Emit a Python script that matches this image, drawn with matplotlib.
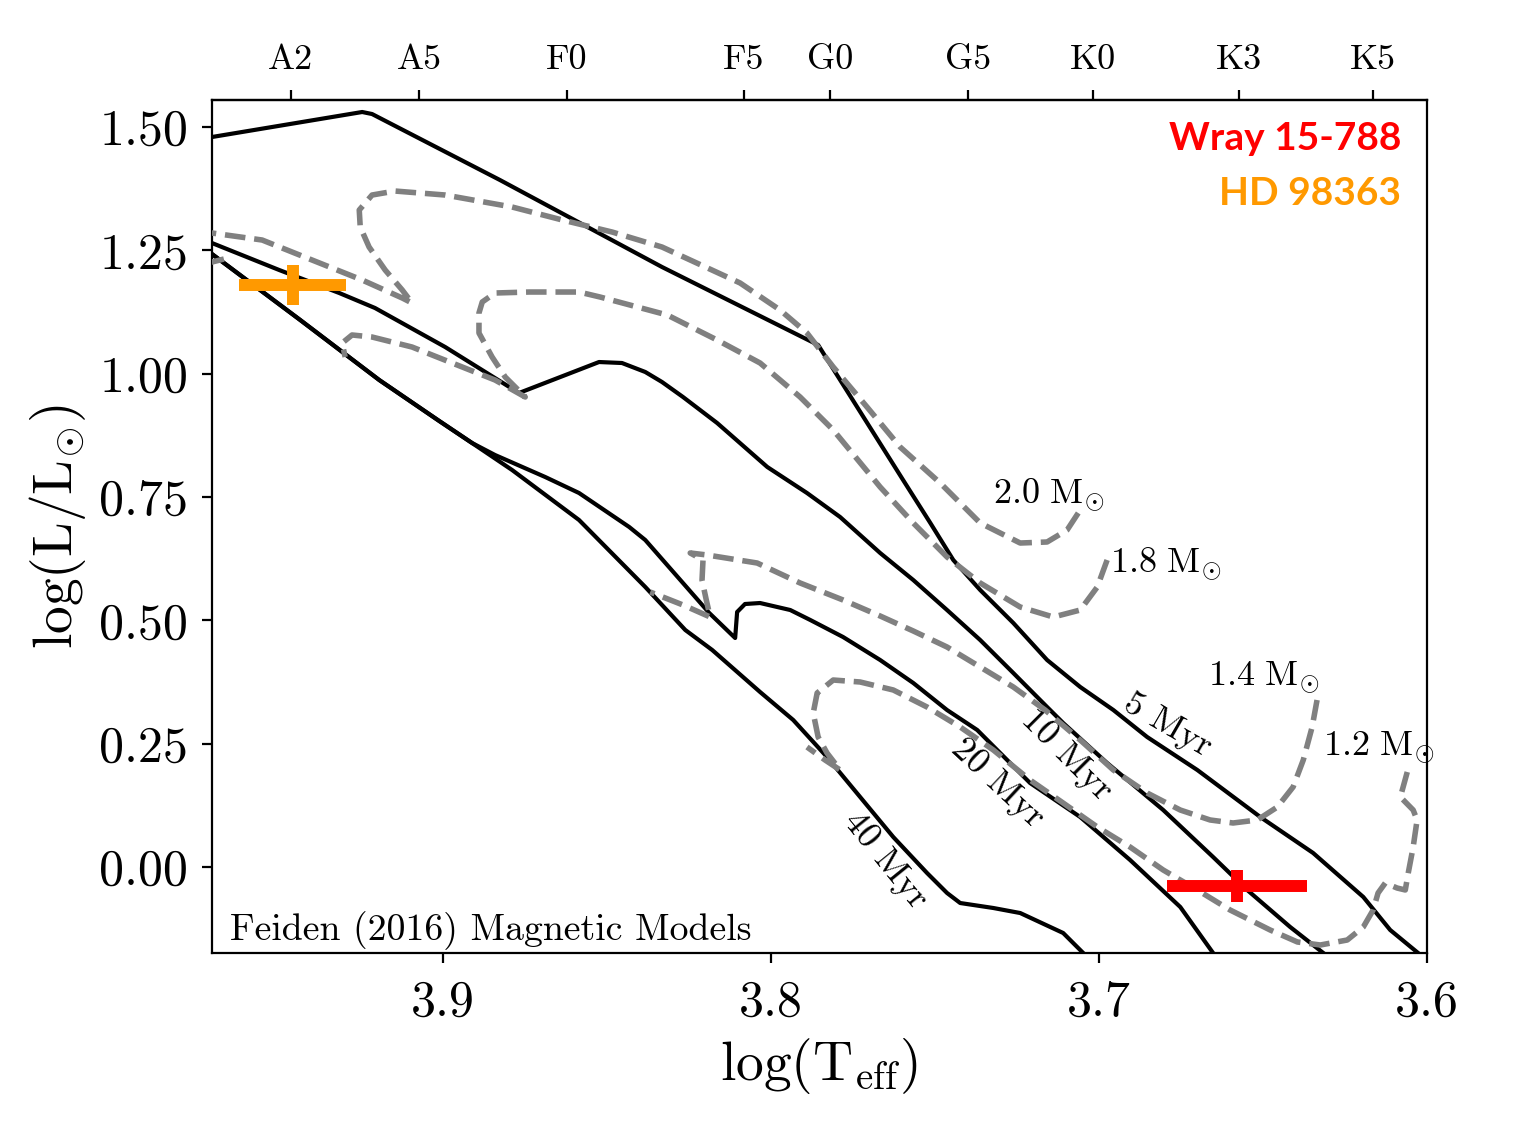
import numpy as np
import matplotlib
matplotlib.use('Agg')
import matplotlib.pyplot as plt
from matplotlib.ticker import FormatStrFormatter

plt.rcParams['font.family'] = 'serif'
plt.rcParams['font.serif'] = ['cmr10']
plt.rcParams['mathtext.fontset'] = 'cm'
plt.rcParams['axes.unicode_minus'] = False
plt.rcParams['axes.formatter.use_mathtext'] = True

# --- isochrones (Feiden 2016 magnetic), log Teff / log L
iso_5_logt = [3.9704, 3.9246, 3.9216, 3.8826, 3.8332, 3.7856, 3.7597, 3.7514, 3.7444, 3.7362,
              3.7261, 3.7158, 3.7057, 3.6956, 3.6853, 3.6700, 3.6508, 3.6347, 3.6194, 3.6112, 3.6027]
iso_5_logl = [1.4797, 1.5304, 1.5263, 1.3925, 1.2162, 1.0581, 0.7844, 0.6973, 0.6223, 0.5615,
              0.4946, 0.4196, 0.3649, 0.3182, 0.2635, 0.1966, 0.1013, 0.0284, -0.0608, -0.1277, -0.1743]

iso_10_logt = [3.9704, 3.9499, 3.9316, 3.9207, 3.8993, 3.8768, 3.8524, 3.8454, 3.8383, 3.8332,
               3.8268, 3.8164, 3.8011, 3.7890, 3.7789, 3.7667, 3.7566, 3.7463, 3.7362, 3.7261,
               3.7158, 3.7109, 3.6975, 3.6804, 3.6652, 3.6548, 3.6417, 3.6316]
iso_10_logl = [1.2648, 1.2101, 1.1635, 1.1331, 1.0540, 0.9608, 1.0236, 1.0216, 1.0034, 0.9831,
               0.9527, 0.9000, 0.8108, 0.7581, 0.7094, 0.6365, 0.5817, 0.5209, 0.4601, 0.3932,
               0.3243, 0.2919, 0.2108, 0.1155, 0.0203, -0.0466, -0.1216, -0.1743]

iso_20_logt = [3.9704, 3.9435, 3.9194, 3.9011, 3.8911, 3.8841, 3.8688, 3.8585, 3.8432, 3.8383,
               3.8188, 3.8109, 3.8103, 3.8079, 3.8033, 3.7941, 3.7880, 3.7780, 3.7667, 3.7566,
               3.7463, 3.7371, 3.7210, 3.7057, 3.6905, 3.6752, 3.6652]
iso_20_logl = [1.2425, 1.1088, 0.9871, 0.9040, 0.8594, 0.8351, 0.7905, 0.7581, 0.6892, 0.6628,
               0.5149, 0.4642, 0.5169, 0.5331, 0.5351, 0.5209, 0.5007, 0.4662, 0.4196, 0.3730,
               0.3182, 0.2777, 0.1703, 0.1013, 0.0142, -0.0811, -0.1743]

iso_40_logt = [3.9704, 3.9435, 3.9194, 3.9011, 3.8911, 3.8789, 3.8585, 3.8383, 3.8261, 3.8179,
               3.8033, 3.7932, 3.7829, 3.7728, 3.7627, 3.7524, 3.7463, 3.7423, 3.7322, 3.7240,
               3.7109, 3.7048]
iso_40_logl = [1.2425, 1.1088, 0.9871, 0.9040, 0.8594, 0.8047, 0.7034, 0.5676, 0.4804, 0.4399,
               0.3547, 0.2980, 0.2230, 0.1419, 0.0608, -0.0122, -0.0527, -0.0730, -0.0831, -0.0933,
               -0.1338, -0.1743]

iso_names = ['5 Myr', '10 Myr', '20 Myr', '40 Myr']
iso_lab_logt = [3.6792, 3.7097, 3.7307, 3.7652]
iso_lab_logl = [0.2878, 0.2270, 0.1703, 0.0142]
iso_lab_rot = [-30, -45, -43, -51]

# --- mass tracks
trk_20_logt = [3.7063, 3.7097, 3.7158, 3.7240, 3.7362, 3.7484, 3.7606, 3.7707, 3.7810, 3.7890,
               3.7972, 3.8094, 3.8332, 3.8484, 3.8636, 3.8789, 3.8993, 3.9146, 3.9216, 3.9255,
               3.9252, 3.9225, 3.9176, 3.9124, 3.9094, 3.9124, 3.9246, 3.9399, 3.9551, 3.9704,
               3.9760, 3.9770, 3.9704, 3.9643]
trk_20_logl = [0.7176, 0.6831, 0.6588, 0.6567, 0.6973, 0.7784, 0.8513, 0.9324, 1.0135, 1.0824,
               1.1290, 1.1838, 1.2567, 1.2871, 1.3115, 1.3378, 1.3621, 1.3702, 1.3621, 1.3317,
               1.2973, 1.2567, 1.2101, 1.1696, 1.1432, 1.1534, 1.1898, 1.2304, 1.2709, 1.2851,
               1.2870, 1.2450, 1.2263, 1.2365]

trk_18_logt = [3.6975, 3.7005, 3.7057, 3.7139, 3.7240, 3.7362, 3.7463, 3.7566, 3.7667, 3.7810,
               3.7911, 3.8033, 3.8164, 3.8316, 3.8521, 3.8585, 3.8737, 3.8841, 3.8880, 3.8890,
               3.8890, 3.8850, 3.8810, 3.8749, 3.8841, 3.8941, 3.9094, 3.9216, 3.9277, 3.9307,
               3.9298]
trk_18_logl = [0.6223, 0.5676, 0.5209, 0.5067, 0.5270, 0.5757, 0.6284, 0.6973, 0.7703, 0.8858,
               0.9527, 1.0216, 1.0682, 1.1189, 1.1554, 1.1655, 1.1655, 1.1635, 1.1453, 1.1230,
               1.0824, 1.0338, 0.9932, 0.9527, 0.9871, 1.0135, 1.0540, 1.0743, 1.0784, 1.0621,
               1.0338]

trk_14_logt = [3.6335, 3.6350, 3.6377, 3.6408, 3.6456, 3.6517, 3.6591, 3.6661, 3.6752, 3.6853,
               3.6956, 3.7057, 3.7164, 3.7261, 3.7362, 3.7463, 3.7566, 3.7667, 3.7780, 3.7911,
               3.8042, 3.8194, 3.8246, 3.8207, 3.8210, 3.8197, 3.8185, 3.8268, 3.8368]
trk_14_logl = [0.3385, 0.2838, 0.2169, 0.1622, 0.1216, 0.0953, 0.0892, 0.0953, 0.1155, 0.1500,
               0.1966, 0.2574, 0.3182, 0.3649, 0.4054, 0.4459, 0.4784, 0.5088, 0.5412, 0.5757,
               0.6162, 0.6324, 0.6365, 0.6223, 0.5817, 0.5412, 0.5067, 0.5311, 0.5574]

trk_12_logt = [3.6060, 3.6081, 3.6042, 3.6030, 3.6042, 3.6057, 3.6066, 3.6091, 3.6127, 3.6149,
               3.6164, 3.6194, 3.6243, 3.6325, 3.6395, 3.6478, 3.6600, 3.6700, 3.6804, 3.6905,
               3.7005, 3.7109, 3.7210, 3.7322, 3.7423, 3.7524, 3.7627, 3.7728, 3.7810, 3.7859,
               3.7871, 3.7856, 3.7829, 3.7789, 3.7835, 3.7890]
trk_12_logl = [0.1926, 0.1419, 0.1155, 0.0953, 0.0405, -0.0122, -0.0466, -0.0426, -0.0324, -0.0527,
               -0.0872, -0.1216, -0.1480, -0.1581, -0.1520, -0.1277, -0.0872, -0.0466, -0.0061, 0.0405,
               0.0811, 0.1297, 0.1763, 0.2372, 0.2838, 0.3243, 0.3588, 0.3750, 0.3790, 0.3527,
               0.3121, 0.2635, 0.2311, 0.1966, 0.2169, 0.2432]

trk_names = ['2.0', '1.8', '1.4', '1.2']
trk_lab_logt = [3.7322, 3.6966, 3.6667, 3.6316]
trk_lab_logl = [0.7378, 0.5980, 0.3689, 0.2270]

# --- stars
star_names = ['Wray 15-788', 'HD 98363']
star_colors = ['#ff0000', '#ff9900']
star_logt = [3.6578, 3.9458]
star_logt_err = [0.0213, 0.0163]
star_logl = [-0.0385, 1.1797]
star_logl_err = [0.0334, 0.0405]

# --- spectral types (top axis)
spt_names = ['A2', 'A5', 'F0', 'F5', 'G0', 'G5', 'K0', 'K3', 'K5']
spt_logt = [3.9464, 3.9073, 3.8622, 3.8082, 3.7819, 3.7398, 3.7017, 3.6574, 3.6165]

fig = plt.figure(figsize=(7.68, 5.625), dpi=200)
ax = fig.add_axes([0.138, 0.1529, 0.791, 0.7582])

isos = [(iso_5_logt, iso_5_logl), (iso_10_logt, iso_10_logl),
        (iso_20_logt, iso_20_logl), (iso_40_logt, iso_40_logl)]
for t, l in isos:
    ax.plot(t, l, color='k', lw=1.5, zorder=2, solid_joinstyle='round')
for name, t, l, r in zip(iso_names, iso_lab_logt, iso_lab_logl, iso_lab_rot):
    ax.text(t, l, name, rotation=r, rotation_mode='anchor', ha='center', va='center',
            fontsize=13, zorder=3)

trks = [(trk_20_logt, trk_20_logl), (trk_18_logt, trk_18_logl),
        (trk_14_logt, trk_14_logl), (trk_12_logt, trk_12_logl)]
for t, l in trks:
    ax.plot(t, l, color='gray', lw=2.0, ls='--', zorder=4)
for name, t, l in zip(trk_names, trk_lab_logt, trk_lab_logl):
    ax.text(t, l, r'$\mathrm{%s\ M_{\odot}}$' % name, ha='left', va='baseline', fontsize=13, zorder=5)

for x, xe, y, ye, c in zip(star_logt, star_logt_err, star_logl, star_logl_err, star_colors):
    ax.errorbar(x, y, xerr=xe, yerr=ye, fmt='none', ecolor=c, elinewidth=4.3, capsize=0, zorder=6)

ax.text(0.979, 0.955, star_names[0], transform=ax.transAxes, ha='right', va='center',
        family='Lato', fontweight='bold', fontsize=14, color=star_colors[0])
ax.text(0.979, 0.890, star_names[1], transform=ax.transAxes, ha='right', va='center',
        family='Lato', fontweight='bold', fontsize=14, color=star_colors[1])
ax.text(0.015, 0.004, 'Feiden (2016) Magnetic Models', transform=ax.transAxes,
        ha='left', va='bottom', fontsize=13.6)

ax.set_xlim(3.9704, 3.6)
ax.set_ylim(-0.1743, 1.5547)
ax.set_xticks([3.9, 3.8, 3.7, 3.6])
ax.set_yticks([0.0, 0.25, 0.5, 0.75, 1.0, 1.25, 1.5])
ax.xaxis.set_major_formatter(FormatStrFormatter('%.1f'))
ax.yaxis.set_major_formatter(FormatStrFormatter('%.2f'))
ax.tick_params(axis='x', labelsize=18, pad=6)
ax.tick_params(axis='y', labelsize=18, pad=5)
ax.set_xlabel(r'$\mathrm{log(T_{eff})}$', fontsize=20)
ax.set_ylabel(r'$\mathrm{log(L/L_{\odot})}$', fontsize=20)

top = ax.secondary_xaxis('top')
top.set_xticks(spt_logt)
top.set_xticklabels(spt_names)
top.tick_params(labelsize=13, pad=5)

fig.savefig('out.png', dpi=200)
